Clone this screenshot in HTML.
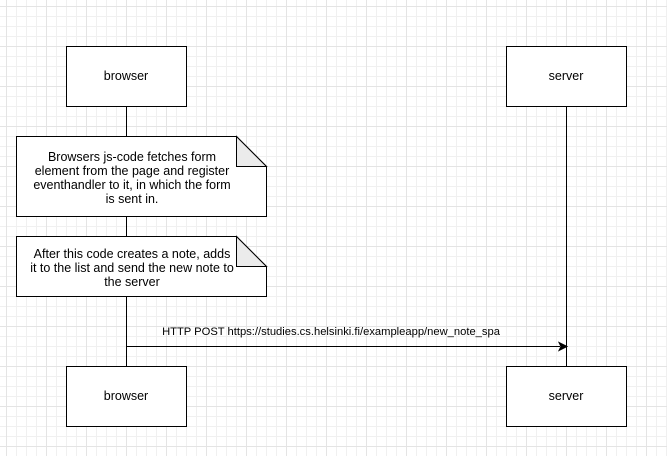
<!DOCTYPE html>
<html><head><style>
html,body{margin:0;padding:0;width:667px;height:456px;overflow:hidden;background:#fff;}
svg{display:block}
text{font-family:"Liberation Sans",Arial,sans-serif;font-size:12.5px;fill:#000}
</style></head><body>
<svg width="667" height="456" viewBox="0 0 667 456" xmlns="http://www.w3.org/2000/svg">
<defs>
<pattern id="g" x="6" y="6" width="10" height="10" patternUnits="userSpaceOnUse">
<path d="M0 0.5H10M0.5 0V10" stroke="#f0f0f0" stroke-width="1" fill="none"/>
</pattern>
<pattern id="G" x="6" y="6" width="40" height="40" patternUnits="userSpaceOnUse">
<path d="M0 0.5H40M0.5 0V40" stroke="#e4e4e4" stroke-width="1" fill="none"/>
</pattern>
</defs>
<rect width="667" height="456" fill="url(#g)"/>
<rect width="667" height="456" fill="url(#G)"/>
<g stroke="#000" stroke-width="1" fill="none">
<line x1="126.5" y1="106" x2="126.5" y2="366"/>
<line x1="566.5" y1="106" x2="566.5" y2="366"/>
<line x1="126.5" y1="346.5" x2="560" y2="346.5"/>
</g>
<path d="M567 346.5 L559 342.5 L561 346.5 L559 350.5 Z" fill="#000" stroke="#000"/>
<g stroke="#000" fill="#fff">
<rect x="66.5" y="46.5" width="120" height="60"/>
<rect x="506.5" y="46.5" width="120" height="60"/>
<rect x="66.5" y="366.5" width="120" height="60"/>
<rect x="506.5" y="366.5" width="120" height="60"/>
<path d="M16.5 136.5 H236.5 L266.5 166.5 V216.5 H16.5 Z"/>
<path d="M236.5 136.5 V166.5 H266.5 Z" fill="#ebebeb"/>
<path d="M16.5 236.5 H236.5 L266.5 266.5 V296.5 H16.5 Z"/>
<path d="M236.5 236.5 V266.5 H266.5 Z" fill="#ebebeb"/>
</g>
<g text-anchor="middle">
<text x="126" y="80">browser</text>
<text x="566" y="80">server</text>
<text x="126" y="400">browser</text>
<text x="566" y="400">server</text>
<text x="132" y="161">Browsers js-code fetches form</text>
<text x="132" y="175">element from the page and register</text>
<text x="132" y="189">eventhandler to it, in which the form</text>
<text x="132" y="203">is sent in.</text>
<text x="132" y="258">After this code creates a note, adds</text>
<text x="132" y="272">it to the list and send the new note to</text>
<text x="132" y="286">the server</text>
<text x="331" y="335" style="font-size:11.2px">HTTP POST https://studies.cs.helsinki.fi/exampleapp/new_note_spa</text>
</g>
</svg>
</body></html>
